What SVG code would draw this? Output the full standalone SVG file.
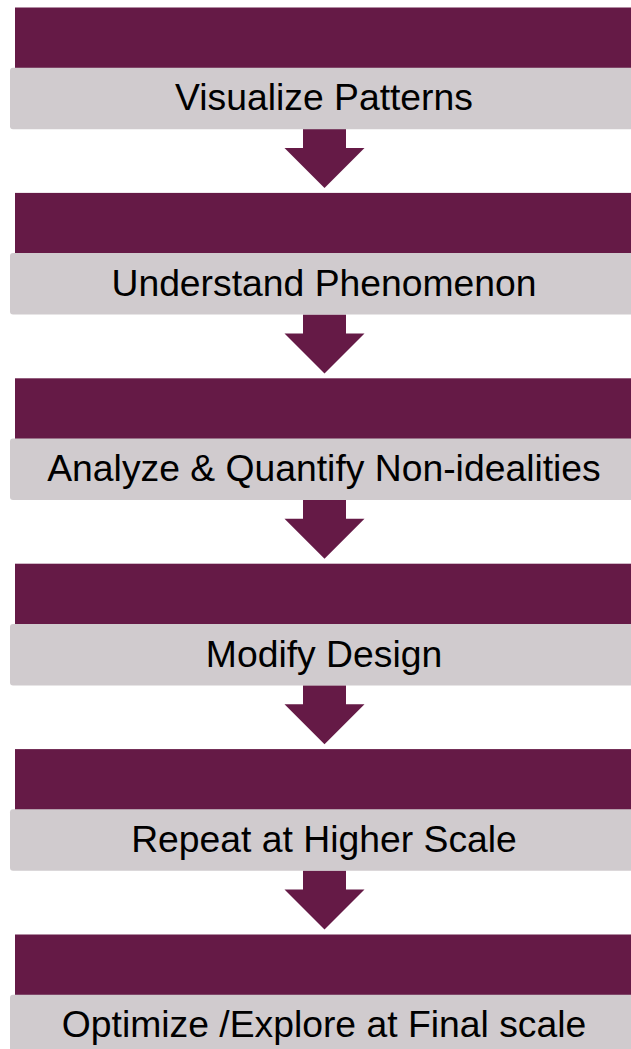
<svg xmlns="http://www.w3.org/2000/svg" width="631" height="1049" viewBox="0 0 631 1049">
  <style>
    .band { fill: #651A46; }
    .label-box { fill: #D0CBCE; }
    .label { font-family: "Liberation Sans", Arial, sans-serif; font-size: 37.3px; fill: #000000; text-anchor: middle; }
    .arrow { fill: #651A46; }
  </style>
  <defs>
    <!-- down arrow, origin at top centre of the stem -->
    <path id="down-arrow" d="M -21.5 0 H 21.5 V 19 H 40 L 0 59 L -40 19 H -21.5 Z"/>
  </defs>

  <rect width="631" height="1049" fill="#FFFFFF"/>

  <g id="connectors">
    <use href="#down-arrow" class="arrow" x="324.5" y="129"/>
    <use href="#down-arrow" class="arrow" x="324.5" y="314.4"/>
    <use href="#down-arrow" class="arrow" x="324.5" y="499.8"/>
    <use href="#down-arrow" class="arrow" x="324.5" y="685.2"/>
    <use href="#down-arrow" class="arrow" x="324.5" y="870.6"/>
  </g>

  <g id="step-visualize">
    <rect class="band" x="15" y="7.5" width="630" height="61"/>
    <rect class="label-box" x="10" y="67.7" width="640" height="61.5" rx="3"/>
    <text class="label" x="324" y="109.5">Visualize Patterns</text>
  </g>

  <g id="step-understand">
    <rect class="band" x="15" y="192.9" width="630" height="61"/>
    <rect class="label-box" x="10" y="253.1" width="640" height="61.5" rx="3"/>
    <text class="label" x="324" y="295.7">Understand Phenomenon</text>
  </g>

  <g id="step-analyze">
    <rect class="band" x="15" y="378.3" width="630" height="61"/>
    <rect class="label-box" x="10" y="438.5" width="640" height="61.5" rx="3"/>
    <text class="label" x="324" y="481.1">Analyze &amp; Quantify Non-idealities</text>
  </g>

  <g id="step-modify">
    <rect class="band" x="15" y="563.7" width="630" height="61"/>
    <rect class="label-box" x="10" y="623.9" width="640" height="61.5" rx="3"/>
    <text class="label" x="324" y="666.5">Modify Design</text>
  </g>

  <g id="step-repeat">
    <rect class="band" x="15" y="749.1" width="630" height="61"/>
    <rect class="label-box" x="10" y="809.3" width="640" height="61.5" rx="3"/>
    <text class="label" x="324" y="851.9">Repeat at Higher Scale</text>
  </g>

  <g id="step-optimize">
    <rect class="band" x="15" y="934.5" width="630" height="61"/>
    <rect class="label-box" x="10" y="994.7" width="640" height="61.5" rx="3"/>
    <text class="label" x="324" y="1037.3">Optimize /Explore at Final scale</text>
  </g>
</svg>
